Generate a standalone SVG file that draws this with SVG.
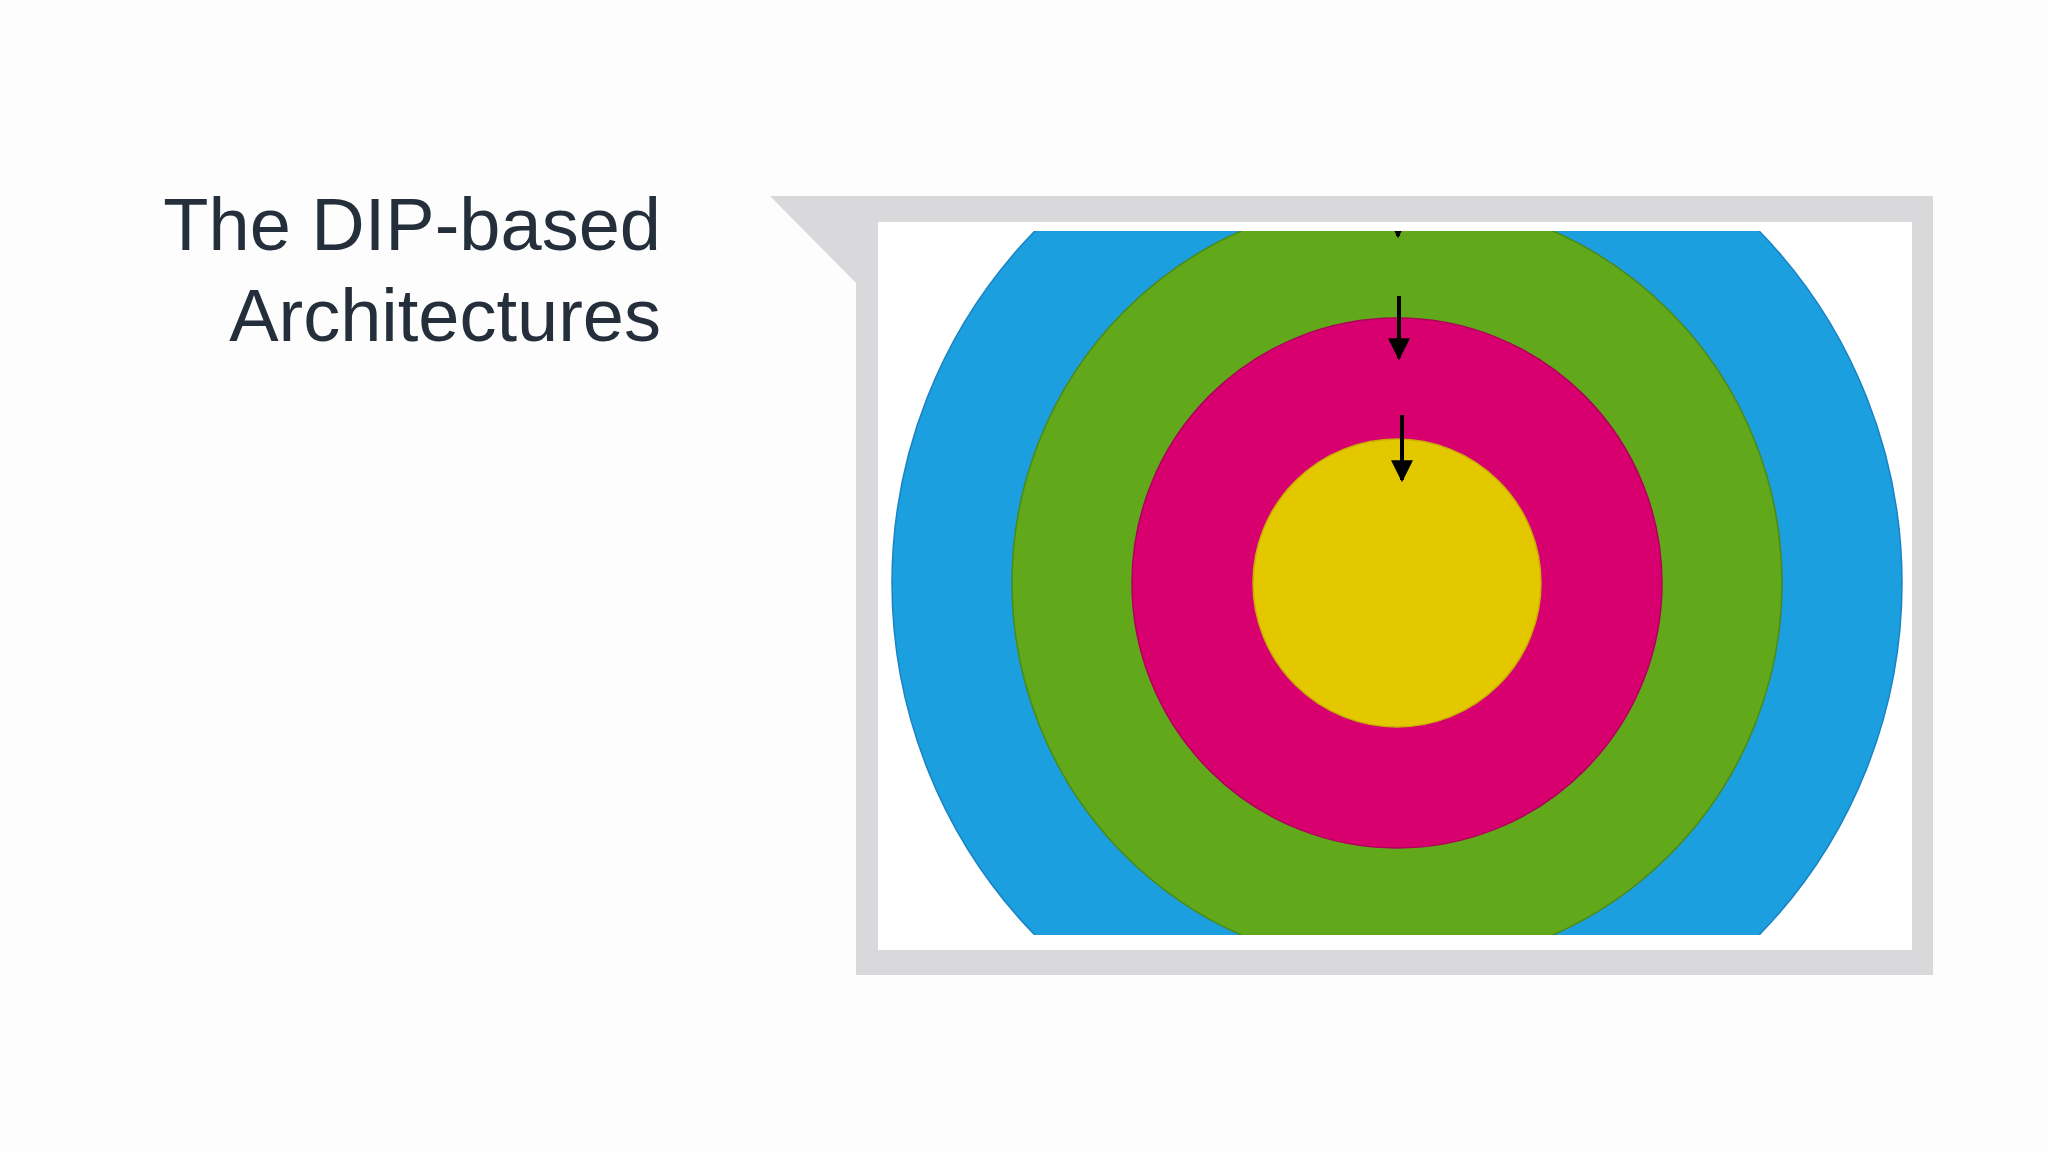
<svg xmlns="http://www.w3.org/2000/svg" width="2048" height="1152" viewBox="0 0 2048 1152">
  <style>
    .title { font-family: "Liberation Sans", Arial, sans-serif; font-size: 74px; fill: #252f3b; text-anchor: end; }
    .ring { stroke-width: 1.5; }
    .arrow { stroke: #000; stroke-width: 4; fill: none; }
  </style>
  <defs>
    <clipPath id="imgClip">
      <rect x="878" y="231" width="1034" height="704"/>
    </clipPath>
    <marker id="head" viewBox="0 0 10 10" refX="9" refY="5" markerWidth="5.5" markerHeight="5.5" markerUnits="strokeWidth" orient="auto">
      <path d="M0,0 L10,5 L0,10 Z" fill="#000"/>
    </marker>
  </defs>
  <rect x="0" y="0" width="2048" height="1152" fill="#fdfdfd"/>

  <g id="title">
    <text class="title" x="661" y="250">The DIP-based</text>
    <text class="title" x="661" y="341">Architectures</text>
  </g>

  <g id="callout-frame">
    <path d="M770,196 L1933,196 L1933,975 L856,975 L856,283 Z" fill="#d9d9db"/>
    <rect x="878" y="222" width="1034" height="728" fill="#ffffff"/>
  </g>

  <g id="rings" clip-path="url(#imgClip)">
    <g id="ring-blue"><circle class="ring" cx="1397" cy="583" r="505" fill="#1c9fdf" stroke="#1a83c4"/></g>
    <g id="ring-green"><circle class="ring" cx="1397" cy="583" r="385" fill="#61a81b" stroke="#4a8a18"/></g>
    <g id="ring-pink"><circle class="ring" cx="1397" cy="583" r="265" fill="#d8006e" stroke="#b0005a"/></g>
    <g id="ring-yellow"><circle class="ring" cx="1397" cy="583" r="144" fill="#e3c800" stroke="#c8ad00"/></g>
  </g>

  <g id="connectors" clip-path="url(#imgClip)">
    <line class="arrow" x1="1398" y1="170" x2="1398" y2="236" marker-end="url(#head)"/>
    <line class="arrow" x1="1399" y1="296" x2="1399" y2="358" marker-end="url(#head)"/>
    <line class="arrow" x1="1402" y1="415" x2="1402" y2="480" marker-end="url(#head)"/>
  </g>
</svg>
